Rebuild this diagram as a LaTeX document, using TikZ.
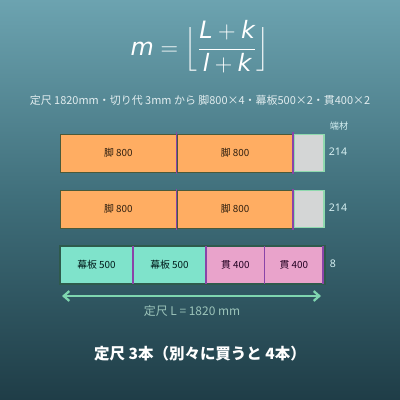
\documentclass[tikz,border=0pt]{standalone}
\usepackage{amsmath}
\usepackage{fontspec}
\setmainfont{Noto Sans}
\newfontfamily\jp{Noto Sans CJK JP}
\newfontfamily\fm{DejaVu Sans}
\usetikzlibrary{arrows.meta}
\definecolor{bgtop}{HTML}{6CA3B0}
\definecolor{bgmid}{HTML}{3F6E7A}
\definecolor{bgbot}{HTML}{1F3D47}
\definecolor{legc}{HTML}{FFAD62}
\definecolor{legb}{HTML}{4A5A3A}
\definecolor{makc}{HTML}{7FE3CB}
\definecolor{nukc}{HTML}{E9A3CB}
\definecolor{remc}{HTML}{D4D6D6}
\definecolor{remb}{HTML}{8FD9AE}
\definecolor{kerfc}{HTML}{8A44A8}
\definecolor{rowb}{HTML}{2E5A4C}
\definecolor{arrc}{HTML}{7FD6B0}
\definecolor{arrt}{HTML}{9CC4BA}
\definecolor{subt}{HTML}{E2EDEF}
\definecolor{remt}{HTML}{D6F0F2}
\def\u{0.025cm}
\newcommand{\mv}[1]{\mbox{\fm\itshape #1}}
\tikzset{
  seg/.style={draw=legb, line width=0.6pt, inner sep=0pt, outer sep=0pt, anchor=north west,
    minimum height=38*\u, font=\jp\fontsize{7}{8}\selectfont},
  legseg/.style={seg, fill=legc, text=black!75!brown},
  makseg/.style={seg, fill=makc, draw=rowb, text=black!80!teal},
  nukseg/.style={seg, fill=nukc, draw=rowb, text=black!75!violet},
  remseg/.style={seg, fill=remc, draw=remb, line width=1.4pt},
  kerfline/.style={draw=kerfc, line width=1.3pt},
  remlabel/.style={text=remt, font=\fontsize{7.5}{9}\selectfont},
}
\begin{document}
\begin{tikzpicture}[x=\u, y=-\u]
\useasboundingbox (0,0) rectangle (400,400);
\shade[top color=bgtop, bottom color=bgbot, middle color=bgmid, shading angle=0] (0,0) rectangle (400,400);
% formula
\node[text=white, font=\fontsize{17}{20}\selectfont] (formula) at (200,47)
  {$\mv{m} = \Bigl\lfloor\dfrac{\mv{L}+\mv{k}}{\mv{l}+\mv{k}}\Bigr\rfloor$};
\node[text=subt, font=\jp\fontsize{7.8}{10}\selectfont] (sub) at (200,100)
  {定尺 1820mm・切り代 3mm から 脚800×4・幕板500×2・貫400×2};
% row 1
\node[legseg, minimum width=116.5*\u] (a1) at (60,134) {脚 800};
\node[legseg, minimum width=116*\u] (a2) at (177,134) {脚 800};
\node[remseg, minimum width=30*\u, minimum height=37*\u] (r1) at (294,134.5) {};
\draw[kerfline] ([yshift=1.5*\u]a1.north east) -- ([yshift=-1.5*\u]a1.south east);
\draw[kerfline] ([yshift=1.5*\u]a2.north east) -- ([yshift=-1.5*\u]a2.south east);
\node[remlabel] (t1) at (338,152) {214};
\node[text=remt, font=\jp\fontsize{6.5}{8}\selectfont] (hz) at (339,126) {端材};
% row 2
\node[legseg, minimum width=116.5*\u] (b1) at (60,190) {脚 800};
\node[legseg, minimum width=116*\u] (b2) at (177,190) {脚 800};
\node[remseg, minimum width=30*\u, minimum height=37*\u] (r2) at (294,190.5) {};
\draw[kerfline] ([yshift=1.5*\u]b1.north east) -- ([yshift=-1.5*\u]b1.south east);
\draw[kerfline] ([yshift=1.5*\u]b2.north east) -- ([yshift=-1.5*\u]b2.south east);
\node[remlabel] (t2) at (338,208) {214};
% row 3
\node[makseg, minimum width=73*\u] (c1) at (60,246) {幕板 500};
\node[makseg, minimum width=73*\u] (c2) at (133,246) {幕板 500};
\node[nukseg, minimum width=58.5*\u] (p1) at (206,246) {貫 400};
\node[nukseg, minimum width=58.5*\u] (p2) at (264.5,246) {貫 400};
\draw[draw=rowb, line width=0.8pt] (c1.north west) rectangle (325,284);
\draw[kerfline] (c1.north east) -- (c1.south east);
\draw[kerfline] (c2.north east) -- (c2.south east);
\draw[kerfline] (p1.north east) -- (p1.south east);
\draw[kerfline] (p2.north east) -- (p2.south east);
\node[remlabel] (t3) at (333,264) {8};
% arrow
\coordinate (al) at (62,296);
\coordinate (ar) at (321,296);
\draw[draw=arrc, line width=1.6pt, {Straight Barb[length=4pt,width=7pt]}-{Straight Barb[length=4pt,width=7pt]}] (al) -- (ar);
\node[text=arrt, font=\jp\fontsize{8.5}{10}\selectfont] (lab) at (192,311) {定尺 L = 1820 mm};
% title
\node[text=white, font=\jp\bfseries\fontsize{11}{13}\selectfont] (title) at (200,354) {定尺 3本（別々に買うと 4本）};
\end{tikzpicture}
\end{document}
